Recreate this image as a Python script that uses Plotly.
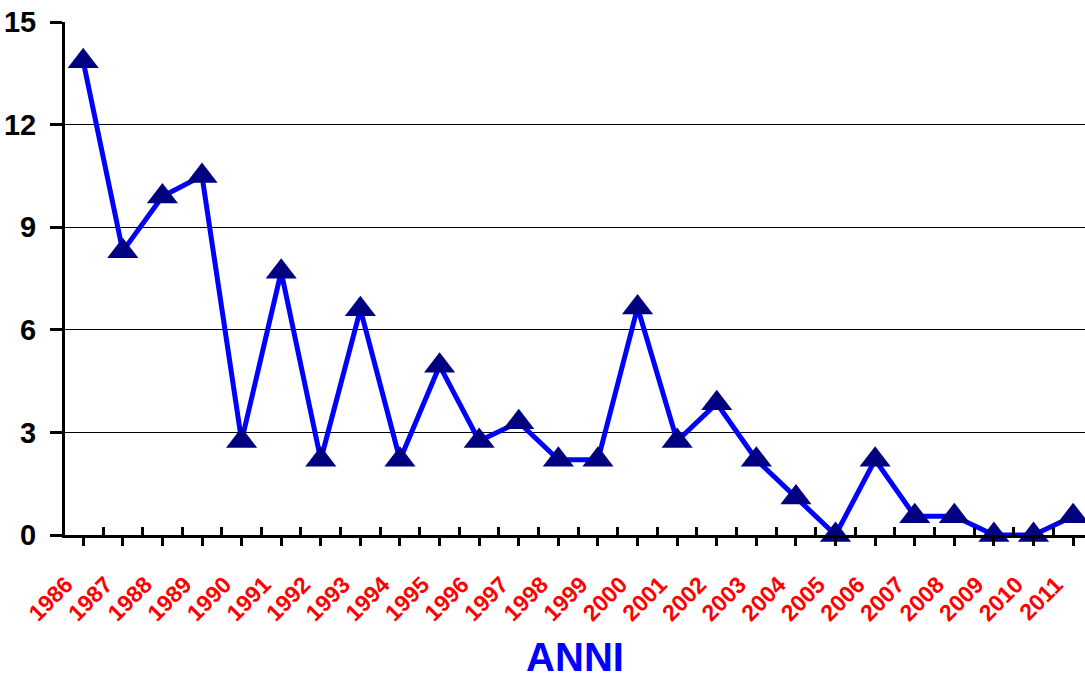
import plotly.graph_objects as go

years = [str(y) for y in range(1986, 2012)]
values = [13.85, 8.3, 9.9, 10.5, 2.75, 7.7, 2.2, 6.6, 2.2, 4.95, 2.75, 3.3, 2.2,
          2.2, 6.65, 2.75, 3.85, 2.2, 1.1, 0.0, 2.2, 0.55, 0.55, 0.0, 0.0, 0.55]
y_ticks = [0, 3, 6, 9, 12, 15]

idx = list(range(len(years)))

fig = go.Figure()
fig.add_trace(go.Scatter(
    x=idx, y=values, mode="lines+markers",
    line=dict(color="#0000FF", width=5),
    marker=dict(symbol="triangle-up", size=27, color="#000080"),
    cliponaxis=False, showlegend=False,
))

fig.update_layout(
    width=1085, height=679,
    margin=dict(l=65, r=0, t=22, b=144),
    paper_bgcolor="white", plot_bgcolor="white",
    font=dict(family="Liberation Sans, Arial, sans-serif"),
    xaxis=dict(
        range=[-0.46, 25.3],
        automargin=False,
        tickmode="array", tickvals=idx, ticktext=years,
        tickangle=-45,
        tickfont=dict(size=23, color="#FF0000", family="Liberation Sans, Arial, sans-serif", weight="bold"),
        ticklabelshift=-17, ticklabelstandoff=16,
        ticks="outside", ticklen=8, tickwidth=3, tickcolor="black",
        minor=dict(dtick=1, tick0=0.5, ticks="inside", ticklen=8, tickwidth=3, tickcolor="black", showgrid=False),
        showline=True, linecolor="black", linewidth=3,
        showgrid=False, zeroline=False,
        title=dict(text="ANNI", font=dict(size=40, color="#0000FF", weight="bold"), standoff=24),
    ),
    yaxis=dict(
        range=[0, 15], tickvals=y_ticks,
        automargin=False,
        tickfont=dict(size=29, color="black", weight="bold"),
        ticklabelstandoff=8,
        ticks="outside", ticklen=12, tickwidth=3, tickcolor="black",
        showline=True, linecolor="black", linewidth=3,
        showgrid=True, gridcolor="black", gridwidth=1,
        zeroline=False,
    ),
)

fig.write_html("out.html", config={"displayModeBar": False},
               post_script="document.body.style.margin='0';")
